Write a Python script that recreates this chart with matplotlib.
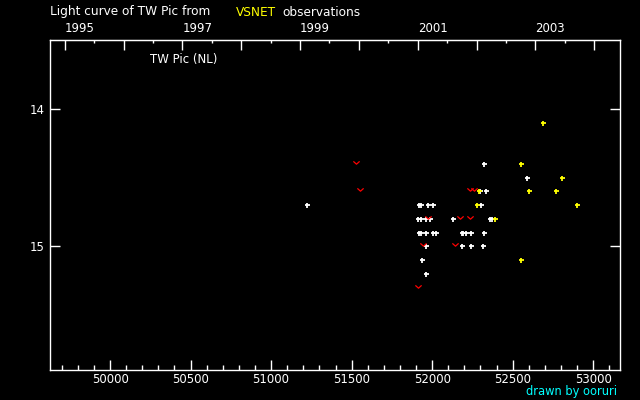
import datetime
import matplotlib
matplotlib.use("Agg")
import matplotlib.pyplot as plt
from matplotlib.ticker import MultipleLocator, FixedLocator

# JD - 2400000 and visual magnitude
white_jd = [51224, 51918, 51930, 51976, 52007, 52305,
            51914, 51930, 51963, 51988, 52131, 52357, 52373,
            51918, 51930, 51963, 52007, 52024, 52183, 52193, 52212, 52243, 52324,
            51963, 52187, 52243, 52317,
            51938, 51963,
            52324, 52297, 52336, 52591]
white_mag = [14.7, 14.7, 14.7, 14.7, 14.7, 14.7,
             14.8, 14.8, 14.8, 14.8, 14.8, 14.8, 14.8,
             14.9, 14.9, 14.9, 14.9, 14.9, 14.9, 14.9, 14.9, 14.9, 14.9,
             15.0, 15.0, 15.0, 15.0,
             15.1, 15.2,
             14.4, 14.6, 14.6, 14.5]

yellow_jd = [52690, 52553, 52808, 52291, 52603, 52771, 52280, 52901, 52392, 52553]
yellow_mag = [14.1, 14.4, 14.5, 14.6, 14.6, 14.6, 14.7, 14.7, 14.8, 15.1]

# fainter-than observations
limit_jd = [51529, 51553, 51976, 52174, 52237, 52235, 52261, 51945, 52143, 51914]
limit_mag = [14.4, 14.6, 14.8, 14.8, 14.8, 14.6, 14.6, 15.0, 15.0, 15.3]

year_labels = [1995, 1996, 1997, 1998, 1999, 2000, 2001, 2002, 2003, 2004]


def jd_of(year, month=1, day=1):
    # JD - 2400000 at 0h UT
    return (datetime.date(year, month, day) - datetime.date(1858, 11, 17)).days + 0.5


fig = plt.figure(figsize=(6.4, 4), dpi=100, facecolor="black")
ax = fig.add_axes([50 / 640, 30 / 400, 570.4 / 640, 329.7 / 400])
ax.set_facecolor("black")

vmark = [(-1, 1.0), (0, 0.1), (1, 1.0)]
ax.plot(white_jd, white_mag, ls="none", marker="+", ms=3.6, mew=1.3, color="white")
ax.plot(yellow_jd, yellow_mag, ls="none", marker="+", ms=3.6, mew=1.3, color="yellow")
ax.plot(limit_jd, limit_mag, ls="none", marker=vmark, ms=4.5, mew=0.9,
        mfc="none", color="red")

ax.set_xlim(49627, 53169)
ax.set_ylim(15.9, 13.5)

for s in ax.spines.values():
    s.set_color("white")
    s.set_linewidth(1)

ax.xaxis.set_major_locator(MultipleLocator(500))
ax.xaxis.set_minor_locator(MultipleLocator(100))
ax.yaxis.set_major_locator(FixedLocator([14, 15]))
ax.tick_params(axis="x", which="major", direction="in", length=7.2, width=1,
               colors="white", labelsize=8.5, pad=2, top=False)
ax.tick_params(axis="x", which="minor", direction="in", length=3.6, width=1,
               colors="white", top=False)
ax.tick_params(axis="y", which="major", direction="in", length=7.5, width=1,
               colors="white", labelsize=8.5, pad=4, right=True)

sec = ax.secondary_xaxis("top")
sec.set_xticks([jd_of(y) for y in year_labels],
               [str(y) if y % 2 == 1 else "" for y in year_labels])
sec.xaxis.set_minor_locator(FixedLocator([jd_of(y, 7, 2) for y in year_labels]))
sec.tick_params(axis="x", which="major", direction="in", length=7.2, width=1,
                colors="white", labelsize=8.5, pad=4)
sec.tick_params(axis="x", which="minor", direction="in", length=2.4, width=1,
                colors="white")
for lbl in sec.get_xticklabels():
    lbl.set_horizontalalignment("left")
sec.spines["top"].set_color("white")

fig.text(50 / 640, 1 - 12 / 400, "Light curve of TW Pic from", color="white",
         fontsize=8.7, va="center")
fig.text(236 / 640, 1 - 12 / 400, "VSNET", color="yellow", fontsize=8.7, va="center")
fig.text(282 / 640, 1 - 12 / 400, "observations", color="white", fontsize=8.7, va="center")
fig.text(150 / 640, 1 - 60 / 400, "TW Pic (NL)", color="white", fontsize=8.5, va="center")
fig.text(617 / 640, 1 - 392 / 400, "drawn by ooruri", color="cyan", fontsize=8.3,
         ha="right", va="center")

fig.savefig("out.png", dpi=100, facecolor="black")
